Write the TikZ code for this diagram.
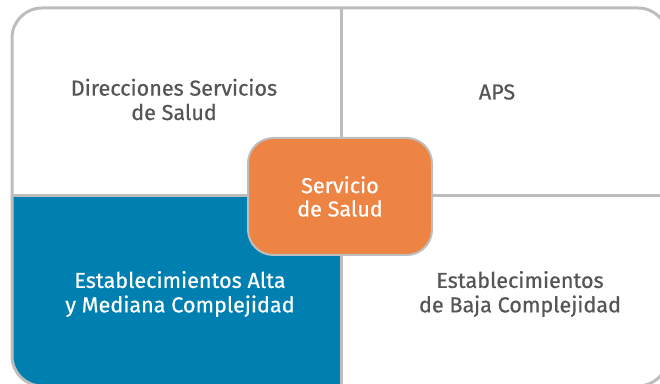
\documentclass[tikz,border=0pt]{standalone}
\usepackage{fontspec}
\setmainfont{Fira Sans}[FakeBold=0.6]
\definecolor{frame}{HTML}{BDBDBD}
\definecolor{blueq}{HTML}{0080B1}
\definecolor{orangeb}{HTML}{EE8444}
\definecolor{txtgray}{HTML}{555555}
\begin{document}
\begin{tikzpicture}[x=0.75pt,y=-0.75pt,
  divider/.style={draw=frame,line width=2.25pt},
  label/.style={align=center,font=\fontsize{16.2}{18.3}\selectfont,text=txtgray,inner sep=0pt},
  center/.style={draw=frame,line width=1.5pt,fill=orangeb,rounded corners=19pt,
    minimum width=138pt,minimum height=87.75pt,align=center,text=white,
    font=\fontsize{16.2}{17.5}\selectfont}]
\useasboundingbox (0,0) rectangle (660,384);
\clip (0,0) rectangle (660,384);
\begin{scope}
  \clip[rounded corners=22.5pt] (12,8) rectangle (668,386);
  \fill[blueq] (12,196) rectangle (341,390);
\end{scope}
\coordinate (vt) at (341,8);
\coordinate (vb) at (341,386);
\coordinate (hl) at (12,196);
\coordinate (hr) at (668,196);
\draw[divider] (vt) -- (vb);
\draw[divider] (hl) -- (hr);
\draw[divider,rounded corners=22.5pt] (12,8) rectangle (668,386);
\node[center] (ss) at (340,196.5) {Servicio\\de Salud};
\node[label] (dss) at (174,99.5) {Direcciones Servicios\\de Salud};
\node[label] (aps) at (497,92) {APS};
\node[label,text=white] (eam) at (180,294) {Establecimientos Alta\\y Mediana Complejidad};
\node[label] (ebc) at (520,294) {Establecimientos\\de Baja Complejidad};
\end{tikzpicture}
\end{document}
